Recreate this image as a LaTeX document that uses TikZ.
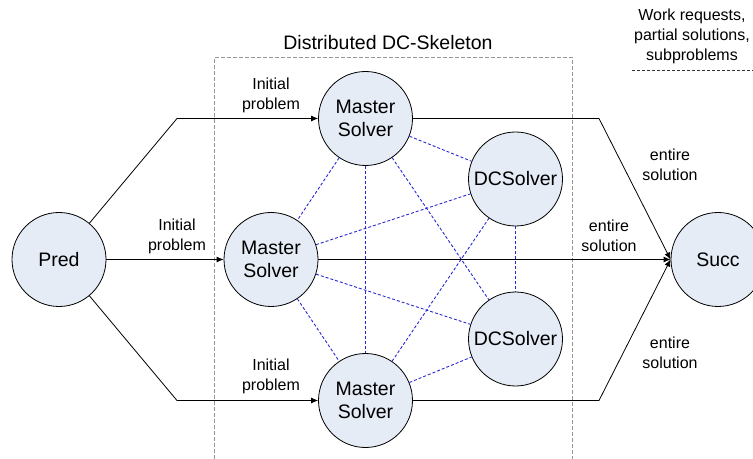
\documentclass[tikz,border=0pt]{standalone}
\usepackage{fontspec}
\setmainfont{Liberation Sans}
\usetikzlibrary{arrows.meta}
\definecolor{nodefill}{RGB}{230,236,246}
\definecolor{linkblue}{RGB}{40,40,210}
\definecolor{boxgray}{RGB}{150,150,150}
\tikzset{
  solver/.style={circle, draw=black, line width=0.8bp, fill=nodefill, minimum size=94bp, inner sep=0pt, align=center, font=\fontsize{19.5bp}{22.5bp}\selectfont},
  lbl/.style={align=center, inner sep=0pt, font=\fontsize{16bp}{20bp}\selectfont},
  flow/.style={line width=0.8bp, draw=black},
  arr/.style={flow, -{Latex[length=7bp,width=6bp]}},
  link/.style={draw=linkblue, line width=0.9bp, dash pattern=on 3bp off 2bp},
  frame/.style={draw=boxgray, line width=0.7bp, dash pattern=on 4bp off 2bp},
  legendline/.style={draw=black!80, line width=0.7bp, dash pattern=on 3bp off 2bp}
}
\begin{document}
\begin{tikzpicture}[x=1bp, y=-1bp]
\useasboundingbox (0,0) rectangle (753,459);
% frame
\coordinate (f1) at (214.5,459);
\coordinate (f2) at (214.5,57.5);
\coordinate (f3) at (572.5,57.5);
\coordinate (f4) at (572.5,459);
\draw[frame] (f1) -- (f2) -- (f3) -- (f4);
\node[lbl, font=\fontsize{19.5bp}{22.5bp}\selectfont] (title) at (388,43) {Distributed DC-Skeleton};
% legend
\node[lbl] (legend) at (692,36) {Work requests,\\partial solutions,\\subproblems};
\coordinate (l1) at (632,70.5);
\coordinate (l2) at (753,70.5);
\draw[legendline] (l1) -- (l2);
% nodes
\node[solver] (pred) at (59,259.5) {Pred};
\node[solver] (ms1) at (365.5,118.5) {Master\\Solver};
\node[solver] (ms2) at (271,259.5) {Master\\Solver};
\node[solver] (ms3) at (365.5,400.5) {Master\\Solver};
\node[solver] (dc1) at (515.5,179) {DCSolver};
\node[solver] (dc2) at (515.5,339) {DCSolver};
\node[solver] (succ) at (718,259.5) {Succ};
% blue links (complete graph)
\draw[link] (ms1) -- (ms2);
\draw[link] (ms1) -- (ms3);
\draw[link] (ms1) -- (dc1);
\draw[link] (ms1) -- (dc2);
\draw[link] (ms2) -- (ms3);
\draw[link] (ms2) -- (dc1);
\draw[link] (ms2) -- (dc2);
\draw[link] (ms3) -- (dc1);
\draw[link] (ms3) -- (dc2);
\draw[link] (dc1) -- (dc2);
% flow
\coordinate (pu) at (177,118.5);
\coordinate (pd) at (177,400.5);
\coordinate (su) at (599,118.5);
\coordinate (sd) at (599,400.5);
\draw[arr] (pred) -- (pu) -- (ms1.west);
\draw[arr] (pred) -- (ms2);
\draw[arr] (pred) -- (pd) -- (ms3.west);
\draw[arr] (ms1.east) -- (su) -- (succ.west);
\draw[arr] (ms2) -- (succ);
\draw[arr] (ms3.east) -- (sd) -- (succ.west);
% labels
\node[lbl] (i1) at (271,95) {Initial\\problem};
\node[lbl] (i2) at (177,236) {Initial\\problem};
\node[lbl] (i3) at (271,376) {Initial\\problem};
\node[lbl] (e1) at (670,165) {entire\\solution};
\node[lbl] (e2) at (609,236) {entire\\solution};
\node[lbl] (e3) at (670,353) {entire\\solution};
\end{tikzpicture}
\end{document}
